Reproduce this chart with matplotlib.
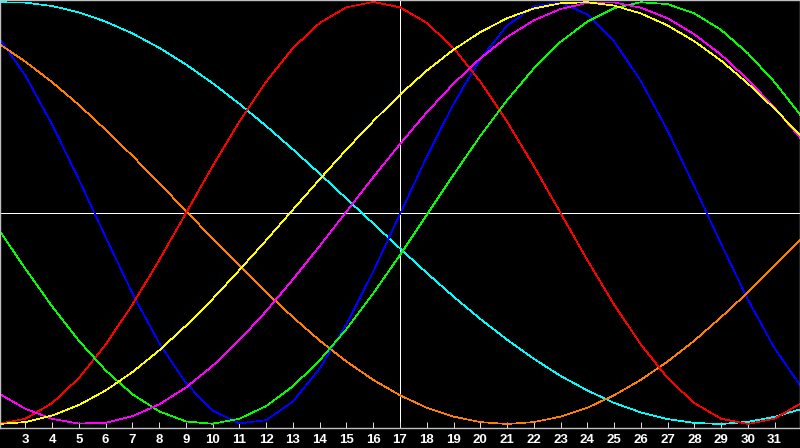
import matplotlib

matplotlib.use("Agg")
import matplotlib.pyplot as plt

# sample positions along the x axis (one value per unit)
x_values = list(range(2, 33))
tick_positions = list(range(3, 32))
tick_labels = [str(v) for v in tick_positions]

cyan_wave = [0.999, 0.997, 0.981, 0.951, 0.907, 0.851, 0.783, 0.704, 0.615, 0.517,
             0.412, 0.301, 0.186, 0.068, -0.050, -0.168, -0.284, -0.396, -0.502, -0.600,
             -0.691, -0.772, -0.841, -0.900, -0.945, -0.977, -0.995, -1.000, -0.990, -0.966,
             -0.929]
blue_wave = [0.832, 0.651, 0.419, 0.158, -0.115, -0.381, -0.617, -0.807, -0.937, -0.997,
             -0.982, -0.893, -0.737, -0.527, -0.277, -0.005, 0.266, 0.517, 0.730, 0.888,
             0.979, 0.998, 0.941, 0.814, 0.626, 0.391, 0.127, -0.146, -0.410, -0.641,
             -0.825]
orange_wave = [0.803, 0.717, 0.620, 0.512, 0.394, 0.271, 0.141, 0.010, -0.122, -0.250,
               -0.376, -0.494, -0.605, -0.704, -0.791, -0.864, -0.923, -0.965, -0.991, -1.000,
               -0.991, -0.965, -0.923, -0.864, -0.791, -0.704, -0.605, -0.494, -0.376, -0.250,
               -0.122]
red_wave = [-1.000, -0.975, -0.901, -0.782, -0.623, -0.434, -0.223, 0.000, 0.223, 0.434,
            0.623, 0.782, 0.901, 0.975, 1.000, 0.975, 0.901, 0.782, 0.623, 0.434,
            0.223, 0.000, -0.223, -0.434, -0.623, -0.782, -0.901, -0.975, -1.000, -0.975,
            -0.901]
green_wave = [-0.078, -0.265, -0.443, -0.606, -0.746, -0.859, -0.940, -0.988, -0.999, -0.975,
              -0.915, -0.821, -0.698, -0.550, -0.381, -0.199, -0.009, 0.181, 0.365, 0.534,
              0.685, 0.811, 0.907, 0.971, 0.999, 0.990, 0.946, 0.868, 0.757, 0.620,
              0.459]
magenta_wave = [-0.855, -0.928, -0.976, -0.998, -0.994, -0.963, -0.907, -0.827, -0.724, -0.602,
                -0.465, -0.314, -0.156, 0.007, 0.170, 0.327, 0.477, 0.613, 0.733, 0.834,
                0.913, 0.967, 0.996, 0.998, 0.973, 0.923, 0.847, 0.750, 0.632, 0.499,
                0.350]
yellow_wave = [-1.000, -0.991, -0.960, -0.910, -0.841, -0.754, -0.651, -0.534, -0.407, -0.270,
               -0.129, 0.016, 0.160, 0.301, 0.435, 0.561, 0.675, 0.774, 0.857, 0.923,
               0.969, 0.994, 0.999, 0.983, 0.946, 0.889, 0.814, 0.722, 0.614, 0.494,
               0.363]

series = [
    (cyan_wave, "#00ffff"),
    (blue_wave, "#0000ff"),
    (orange_wave, "#ff8000"),
    (red_wave, "#ff0000"),
    (green_wave, "#00ff00"),
    (magenta_wave, "#ff00ff"),
    (yellow_wave, "#ffff00"),
]

fig = plt.figure(figsize=(8, 4.48), dpi=100, facecolor="black")
ax = fig.add_axes([0, 20 / 448, 1, 428 / 448], facecolor="black")

# crosshair
ax.axvline(17, color="white", linewidth=0.5, antialiased=False, zorder=1)
ax.axhline(0, color="white", linewidth=0.5, antialiased=False, zorder=1)

for values, color in series:
    ax.plot(x_values, values, color=color, linewidth=0.5, antialiased=False, zorder=2)

ax.set_xlim(2.05, 31.95)
ax.set_ylim(-1.019, 1.0095)
ax.set_yticks([])
ax.set_xticks(tick_positions)
ax.set_xticklabels(tick_labels)
ax.tick_params(axis="x", direction="in", length=4, width=0.7, color="#e0e0e0",
               labelcolor="white", pad=4.5, labelsize=9.5)
for label in ax.get_xticklabels():
    label.set_fontweight("bold")
    label.set_family("Liberation Sans")
for spine in ax.spines.values():
    spine.set_color("#c0c0c0")
    spine.set_linewidth(1.0)

fig.savefig("out.png", dpi=100, facecolor="black")
plt.close(fig)
